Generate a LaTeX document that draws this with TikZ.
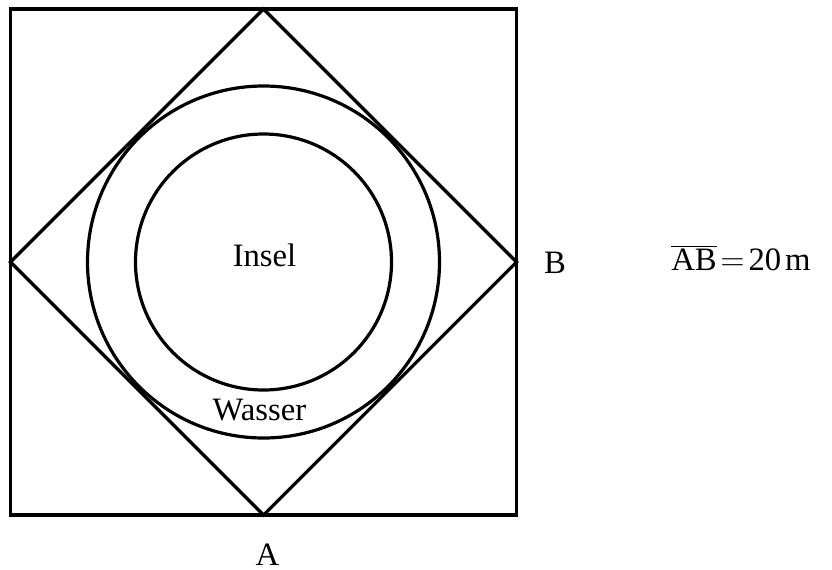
\documentclass[tikz,border=0pt]{standalone}
\usepackage{fontspec}
\setmainfont{Liberation Serif}

\begin{document}
\begin{tikzpicture}[x=0.75pt,y=-0.75pt,line cap=round,line join=miter,every node/.style={inner sep=0pt,font=\fontsize{24.5}{28}\selectfont}]
  \def\lw{2.4pt}
  \useasboundingbox (0,0) rectangle (832,569);
  % square and its side midpoints
  \coordinate (NW) at (10.5,9);
  \coordinate (SE) at (516.5,515);
  \coordinate (top) at (263.5,9);
  \coordinate (right) at (516.5,262);
  \coordinate (bottom) at (263.5,515);
  \coordinate (left) at (10.5,262);
  \coordinate (M) at (263.5,262);
  \draw[line width=\lw,line cap=rect] (NW) rectangle (SE);
  \draw[line width=\lw] (top) -- (right) -- (bottom) -- (left) -- cycle;
  \draw[line width=\lw] (M) circle[radius=132pt];
  \draw[line width=\lw] (M) circle[radius=96pt];
  \node[anchor=base] (insel) at (264.5,266) {Insel};
  \node[anchor=base] (wasser) at (259.5,420.5) {Wasser};
  \node[anchor=base] (B) at (555,273) {B};
  \node[anchor=base] (A) at (267.5,565) {A};
  \node[anchor=base west] (AB) at (671,270) {\(\overline{\hbox{AB}}\)\kern3pt\(=\)\kern3pt20\kern3pt m};
\end{tikzpicture}
\end{document}
